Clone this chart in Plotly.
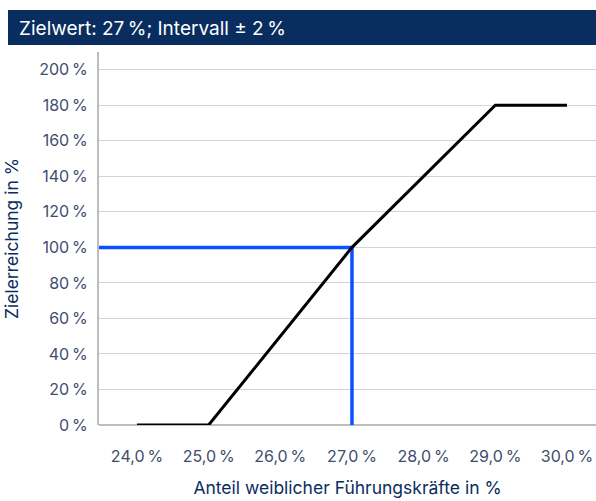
import plotly.graph_objects as go

# Data
x_values = [24.0, 25.0, 27.0, 29.0, 30.0]
y_values = [0, 0, 100, 180, 180]
target_x = 27.0
target_y = 100
x_ticks = [24.0, 25.0, 26.0, 27.0, 28.0, 29.0, 30.0]
x_ticktext = ["24,0\u2009%", "25,0\u2009%", "26,0\u2009%", "27,0\u2009%", "28,0\u2009%", "29,0\u2009%", "30,0\u2009%"]
y_ticks = [0, 20, 40, 60, 80, 100, 120, 140, 160, 180, 200]
y_ticktext = [f"{v}\u2009%" for v in y_ticks]
title_text = "Zielwert: 27\u2009%; Intervall ± 2\u2009%"

X_RANGE = [23.47, 30.405]
Y_RANGE = [0, 210]

W, H = 596, 501
L, R, T, B = 99, 0, 52, 76
pw, ph = W - L - R, H - T - B

def px_x(px):
    return (px - L) / pw

def px_y(py):
    return (H - B - py) / ph

FONT = "Inter, Roboto, sans-serif"
TICK_COLOR = "#3f4d6e"
NAVY = "#0a2d60"

fig = go.Figure()
fig.add_trace(go.Scatter(
    x=[X_RANGE[0], target_x, target_x], y=[target_y, target_y, 0],
    mode="lines", line=dict(color="#0a50ff", width=3.5),
    cliponaxis=False, hoverinfo="skip", showlegend=False))
fig.add_trace(go.Scatter(
    x=x_values, y=y_values, mode="lines",
    line=dict(color="black", width=3),
    cliponaxis=False, showlegend=False))

fig.add_shape(type="rect", xref="paper", yref="paper",
              x0=px_x(8), x1=1, y0=px_y(45), y1=px_y(10),
              fillcolor=NAVY, line=dict(width=0), layer="above")
fig.add_annotation(xref="paper", yref="paper", x=px_x(17), y=px_y(28.5),
                   text=title_text, showarrow=False, xanchor="left", yanchor="middle",
                   font=dict(family=FONT, size=19, color="white"))

fig.update_layout(
    width=W, height=H,
    margin=dict(l=L, r=R, t=T, b=B),
    paper_bgcolor="white", plot_bgcolor="white",
    font=dict(family=FONT, color=TICK_COLOR),
    xaxis=dict(range=X_RANGE, tickvals=x_ticks, ticktext=x_ticktext,
               showgrid=False, zeroline=False, showline=False, ticks="",
               tickfont=dict(size=16, color=TICK_COLOR), ticklabelstandoff=20,
               title=dict(text="Anteil weiblicher Führungskräfte in %",
                          font=dict(size=17.5, color=NAVY), standoff=16)),
    yaxis=dict(range=Y_RANGE, tickvals=y_ticks, ticktext=y_ticktext,
               showgrid=True, gridcolor="#d4d4d4", gridwidth=1,
               zeroline=True, zerolinecolor="#bdbdbd", zerolinewidth=2,
               showline=True, linecolor="#bdbdbd", linewidth=2, ticks="",
               tickfont=dict(size=16, color=TICK_COLOR), ticklabelstandoff=6,
               title=dict(text="Zielerreichung in %",
                          font=dict(size=17.5, color=NAVY), standoff=16)),
)

fig.write_html("out.html")
